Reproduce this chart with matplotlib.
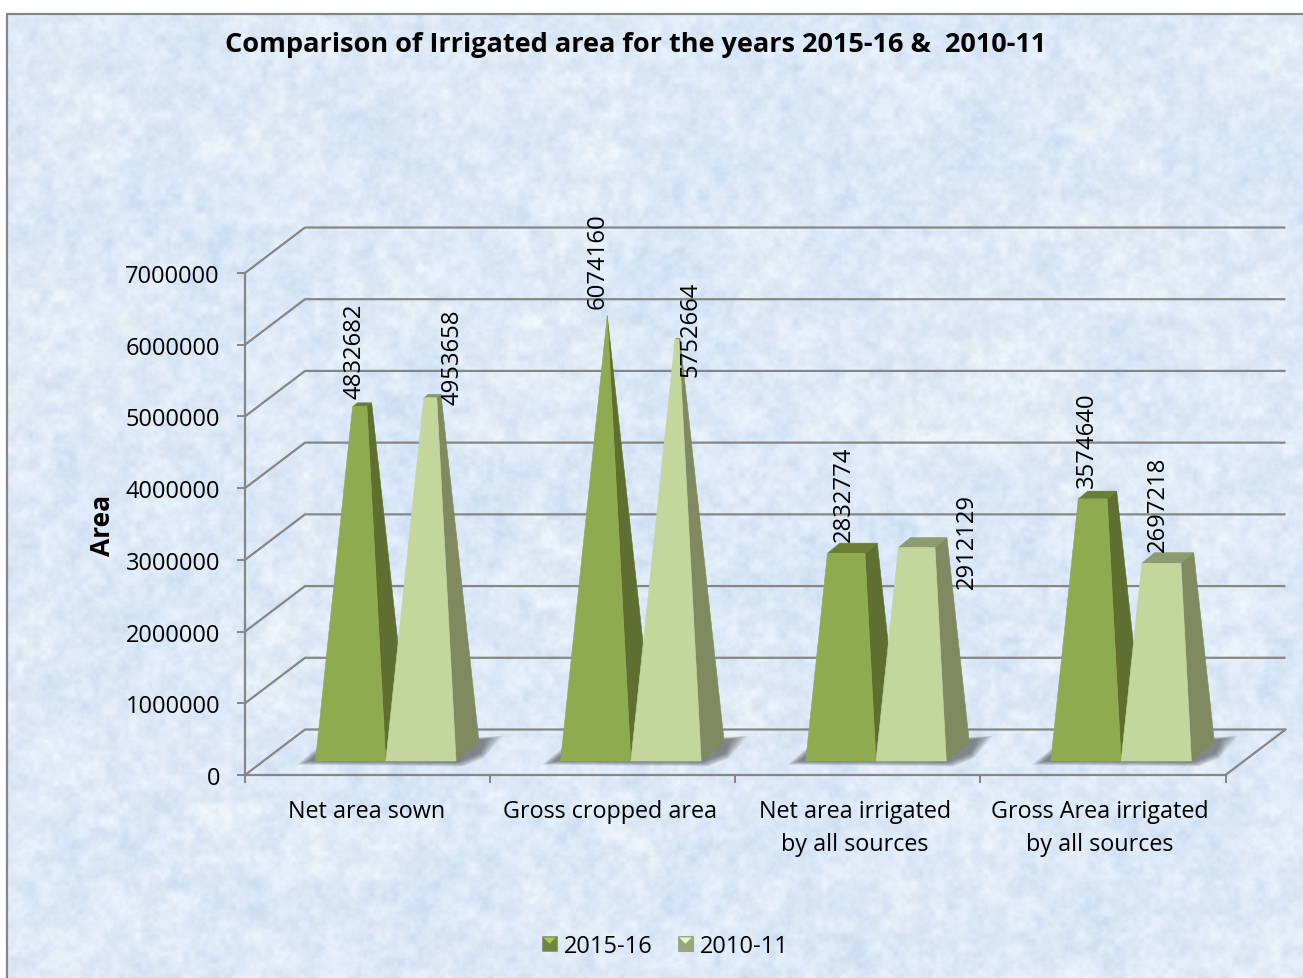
import numpy as np
import matplotlib
matplotlib.use("Agg")
import matplotlib.pyplot as plt
from matplotlib.patches import Polygon, Rectangle, Patch
from matplotlib.legend_handler import HandlerBase
from matplotlib.transforms import ScaledTranslation

# ---------- data ----------
categories = ["Net area sown", "Gross cropped area",
              "Net area irrigated\nby all sources", "Gross Area irrigated\nby all sources"]
series_names = ["2015-16", "2010-11"]
values_2015 = [4832682, 6074160, 2832774, 3574640]
values_2010 = [4953658, 5752664, 2912129, 2697218]
y_ticks = [0, 1000000, 2000000, 3000000, 4000000, 5000000, 6000000, 7000000]

# ---------- style / layout ----------
W, H = 1303, 979
GRID = "#868686"
FONT = "Open Sans"
plt.rcParams["font.family"] = [FONT, "DejaVu Sans"]
face = {"2015-16": ("#8fab50", "#5f6f31", "#6c7d38"),
        "2010-11": ("#c3d69b", "#7f8a60", "#8e9b6e")}
label_offsets = {"2015-16": [(-5.5, 56), (-9.5, 55.5), (-2, 60.5), (-5.5, 60)],
                 "2010-11": [(22.5, 42), (13.5, 10.5), (50.5, 7), (-3.5, 59.5)]}
xlabel_shift_px = [-0.5, -3, -3, -3]

fig = plt.figure(figsize=(W / 100, H / 100), dpi=100, facecolor="white")

# ---------- mottled chart background (hash-based value noise) ----------
bg = fig.add_axes([0, 0, 1, 1], zorder=-1)
bg.axis("off")
yy, xx = np.mgrid[0:H, 0:W]


def value_noise(cell, sx, sy):
    gx, gy = xx / cell, yy / cell
    ix, iy = np.floor(gx).astype(int), np.floor(gy).astype(int)
    fx, fy = gx - ix, gy - iy
    fx, fy = fx * fx * (3 - 2 * fx), fy * fy * (3 - 2 * fy)

    def h(a, b):
        r = np.sin(a * 12.9898 + b * 78.233 + sx) * (43758.5453 + sy)
        return r - np.floor(r)

    top = h(ix, iy) * (1 - fx) + h(ix + 1, iy) * fx
    bot = h(ix, iy + 1) * (1 - fx) + h(ix + 1, iy + 1) * fx
    return top * (1 - fy) + bot * fy - 0.5


blue = 1.0 * value_noise(70, 0.3, 1.0) + 0.7 * value_noise(31, 1.1, 3.0)
grain = 0.9 * value_noise(13, 2.3, 5.0) + 0.7 * value_noise(6, 3.7, 7.0) + 0.4 * value_noise(3, 4.9, 9.0)
img = np.empty((H, W, 3))
img[..., 0] = 0.868 - 0.038 * blue + 0.075 * grain
img[..., 1] = 0.915 - 0.020 * blue + 0.055 * grain
img[..., 2] = 0.968 + 0.006 * blue + 0.030 * grain
img = np.clip(img, 0, 1)
bg.imshow(img, extent=(7, W, H, 15), aspect="auto", interpolation="bilinear", zorder=0)
bg.set_xlim(0, W); bg.set_ylim(H, 0)
bg.plot([7, 7, W], [H, 15, 15], color=GRID, lw=1.6, zorder=2, clip_on=False)

# ---------- plotting axes: front plane of the 3-D box ----------
ax = fig.add_axes([245 / W, 1 - 776 / H, 980.5 / W, 502 / H], zorder=1)
ax.patch.set_visible(False)
ax.set_xlim(0, 4); ax.set_ylim(0, 7000000)
ux = 4 / 980.5           # data units per pixel, x
uy = 7000000 / 502       # data units per pixel, y

depth_x, depth_y = 60 * ux, 45.5 * uy
for v in y_ticks:
    ax.plot([0, depth_x, 4 + depth_x], [v, v + depth_y, v + depth_y],
            color=GRID, lw=1.6, zorder=1, clip_on=False, solid_capstyle="butt")
ax.plot([4, 4 + depth_x], [0, depth_y], color=GRID, lw=1.6, zorder=1, clip_on=False)

# ---------- clipped pyramids ----------
value_scale = 73.3 / 71.7
base_y = 14 * uy
bar_w = 70.3 * ux
bar_shift = 18.2 * ux
base_dx, base_dy = 23 * ux, 19 * uy
apex_v = max(values_2015 + values_2010)


def lerp(a, b, t):
    return (a[0] + (b[0] - a[0]) * t, a[1] + (b[1] - a[1]) * t)


def add_poly(pts, color, z, **kw):
    ax.add_patch(Polygon(pts, closed=True, facecolor=color, edgecolor=kw.pop("edge", color),
                         lw=kw.pop("lw", 0.4), zorder=z, clip_on=False, **kw))


# soft floor shadows: many faint nested layers imitate a blur
for i in range(len(categories)):
    centre = i + 0.5 + bar_shift
    x0, x1 = centre - bar_w, centre + bar_w
    for k in range(14):
        g = (13 - k) * 1.0
        add_poly([(x0 - (6 + g * 1.0) * ux, base_y - (0 + g * .3) * uy),
                  (x0 + (6 - g * .3) * ux, base_y + (10 + g * .3) * uy),
                  (x1 + (30 + g * 1.3) * ux, base_y + (22 + g * .25) * uy),
                  (x1 + (24 + g * .3) * ux, base_y + (8 - g * .4) * uy),
                  (x1 + (2 + g * .4) * ux, base_y - (1 + g * .35) * uy)],
                 "#383838", 2, edge="none", lw=0, alpha=0.055)

for i in range(len(categories)):
    centre = i + 0.5 + bar_shift
    for s, (name, vals) in enumerate(zip(series_names, (values_2015, values_2010))):
        v = vals[i]
        left = centre + (s - 1) * bar_w
        right = left + bar_w
        t = v / apex_v
        apex = (left + bar_w / 2 + base_dx / 2, base_y + apex_v * value_scale)
        fl0, fr0 = (left, base_y), (right, base_y)
        br0 = (right + base_dx, base_y + base_dy)
        bl0 = (left + base_dx, base_y + base_dy)
        fl1, fr1, br1, bl1 = (lerp(p, apex, t) for p in (fl0, fr0, br0, bl0))
        front, side, top = face[name]
        z = 3 + i + s * 0.1
        add_poly([fr0, br0, br1, fr1], side, z)
        add_poly([fl1, fr1, br1, bl1], top, z)
        add_poly([fl0, fr0, fr1, fl1], front, z + 0.05)
        ox, oy = label_offsets[name][i]
        ax.annotate(str(v), xy=((fl1[0] + fr1[0]) / 2, fl1[1]), xytext=(ox, oy),
                    textcoords="offset pixels", rotation=90, ha="center", va="center",
                    fontsize=17.2, color="black", zorder=20, annotation_clip=False)

# ---------- axes furniture ----------
for sp in ("top", "right"):
    ax.spines[sp].set_visible(False)
for sp in ("left", "bottom"):
    ax.spines[sp].set_color(GRID)
    ax.spines[sp].set_linewidth(1.6)
    ax.spines[sp].set_zorder(2)
ax.set_yticks(y_ticks)
ax.set_yticklabels([str(v) for v in y_ticks], fontsize=17)
ax.set_xticks(range(len(categories) + 1))
ax.set_xticklabels([])
ax.set_xticks(np.arange(len(categories)) + 0.5, minor=True)
ax.set_xticklabels(categories, minor=True, fontsize=16.8, linespacing=1.5)
ax.tick_params(axis="y", length=6, width=1.4, color=GRID, pad=12, labelcolor="black")
ax.tick_params(axis="x", which="major", length=6, width=1.4, color=GRID)
ax.tick_params(axis="x", which="minor", length=0, pad=17.5, labelcolor="black")
for lab, dx in zip(ax.get_xticklabels(minor=True), xlabel_shift_px):
    lab.set_transform(lab.get_transform() + ScaledTranslation(dx / 100, 0, fig.dpi_scale_trans))

ax.text((103 - 245) / 980.5, (776 - 525) / 502, "Area", transform=ax.transAxes, rotation=90,
        ha="center", va="center", fontsize=19, fontweight="bold", color="black")

fig.text(636 / W, 1 - 45 / H, "Comparison of Irrigated area for the years 2015-16 &  2010-11",
         ha="center", va="center", fontsize=19.5, fontweight="bold", color="black")


# ---------- legend with bevelled square keys ----------
class BevelHandler(HandlerBase):
    def create_artists(self, legend, orig, xd, yd, width, height, fontsize, trans):
        c = orig.get_facecolor()
        dark = tuple(0.78 * x for x in c[:3])
        s = 10.8
        x0, y0 = -xd + width - s, -yd + (height - s) / 2
        sq = Rectangle((x0, y0), s, s, facecolor=dark, edgecolor=GRID, lw=0.4, transform=trans)
        tri = Polygon([(x0 + s * .08, y0 + s * .92), (x0 + s * .92, y0 + s * .92), (x0 + s * .5, y0 + s * .5)],
                      closed=True, facecolor=tuple(min(1, 1.18 * x) for x in c[:3]),
                      edgecolor="none", transform=trans)
        return [sq, tri]


handles = [Patch(facecolor=face[n][0]) for n in series_names]
leg = fig.legend(handles, series_names, loc="center", bbox_to_anchor=(665.5 / W, 1 - 947 / H),
                 ncol=2, frameon=False, fontsize=17, handlelength=0.635, handletextpad=0.3,
                 columnspacing=1.06, borderpad=0,
                 handler_map={Patch: BevelHandler()})

fig.savefig("out.png", dpi=100, facecolor="white")
